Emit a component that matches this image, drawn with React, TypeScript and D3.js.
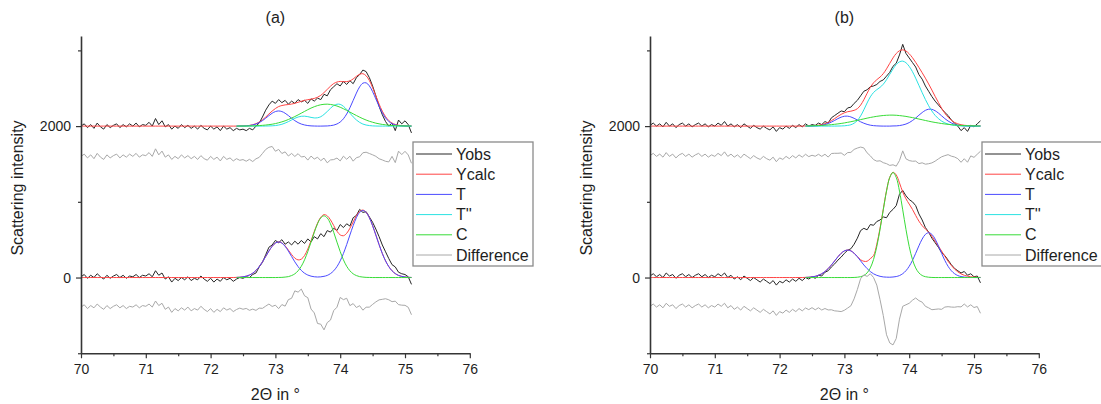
import React, { useEffect, useRef } from 'react';
import * as d3 from 'd3';

// x grid of the measured / calculated profiles (2Θ in degrees)
const gridStart = 70;
const gridStep = 0.05;
// peak components are only plotted from here on (same step)
const compStart = 72.4;

// vertical shifts used in the figure
const upperShift = 2000;
const diffShift = -400;

// ---- panel (a), lower pattern ----
const obsA_lo = [10, 40, -10, 30, 0, 50, 10, -20, 30, -10,
  20, 40, 0, 30, -10, 20, 10, 40, 0, 30,
  20, 50, 10, 90, 30, 60, -20, 10, -60, -10,
  -40, 0, -30, 10, -40, -10, -30, 20, -20, -50,
  -10, -60, -20, -50, 0, -30, -10, -50, -20, 0,
  -10, 10, 0, 40, 60, 140, 200, 300, 400, 430,
  490, 460, 500, 440, 470, 430, 480, 440, 490, 450,
  510, 470, 540, 510, 580, 540, 620, 600, 650, 620,
  700, 660, 710, 680, 790, 820, 900, 860, 870, 800,
  730, 640, 540, 430, 340, 250, 170, 140, 70, 50,
  40, 10, -90];
const calcA_lo = [0, 0, 0, 0, 0, 0, 0, 0, 0, 0, 0, 0, 0, 0, 0, 0, 0, 0, 0, 0, 0, 0, 0, 0,
  0, 0, 0, 0, 0, 0, 0, 0, 0, 0, 0, 0, 0, 0, 0, 0, 0, 0, 0, 0, 0, 0, 0, 0,
  2, 4, 9, 18, 33, 57, 94, 144, 207, 278, 350, 412, 455, 471, 457, 418, 362, 304, 256, 233,
  243, 291, 376, 486, 607, 717, 796, 831, 815, 762, 686, 612, 563, 552, 584, 651, 734, 816, 872, 891,
  862, 791, 685, 562, 435, 318, 220, 144, 89, 52, 28, 15, 7, 3, 1];
const tA_lo = [2, 4, 9, 18, 33, 57, 94, 144, 207, 278, 350, 412, 455, 470, 455, 412, 350, 278, 207, 144,
  94, 57, 33, 18, 10, 7, 9, 16, 28, 52, 89, 144, 220, 318, 435, 562, 685, 790, 860, 885,
  860, 790, 685, 562, 435, 318, 220, 144, 89, 52, 28, 15, 7, 3, 1];
const cA_lo = [0, 0, 0, 0, 0, 0, 0, 0, 0, 0, 0, 0, 0, 1, 2, 6, 12, 26, 49, 89,
  149, 234, 343, 468, 597, 710, 787, 815, 787, 710, 597, 468, 343, 234, 149, 89, 49, 26, 12, 6,
  2, 1, 0, 0, 0, 0, 0, 0, 0, 0, 0, 0, 0, 0, 0];

// ---- panel (a), upper pattern (values relative to the 2000 shift) ----
const obsA_hi = [0, 30, -20, 20, -30, 40, -10, -40, 20, -20,
  10, 30, -20, 20, -10, 30, 0, 40, -10, 20,
  10, 50, 0, 100, 20, 70, -10, 20, -40, 0,
  -30, 20, -20, 10, -30, 0, -40, 10, -30, -50,
  0, -40, -10, -60, 0, -40, -20, -60, -30, -50,
  -40, -60, -30, -50, 0, 40, 120, 210, 280, 330,
  300, 350, 310, 340, 290, 330, 300, 350, 320, 340,
  300, 360, 330, 370, 350, 420, 400, 480, 520, 560,
  530, 590, 550, 600, 560, 640, 680, 740, 720, 640,
  530, 400, 260, 150, 60, 0, 40, -60, 80, 30,
  70, 20, -90];
const calcA_hi = [0, 0, 0, 0, 0, 0, 0, 0, 0, 0, 0, 0, 0, 0, 0, 0, 0, 0, 0, 0, 0, 0, 0, 0,
  0, 0, 0, 0, 0, 0, 0, 0, 0, 0, 0, 0, 0, 0, 0, 0, 0, 0, 0, 0, 0, 0, 0, 0,
  0, 2, 2, 4, 9, 18, 32, 53, 82, 119, 160, 199, 232, 258, 272, 280, 285, 291, 301, 314,
  328, 340, 349, 356, 365, 381, 406, 443, 485, 527, 562, 582, 590, 587, 588, 598, 623, 657, 685, 692,
  665, 602, 509, 399, 291, 197, 125, 73, 40, 22, 11, 6, 3, 1, 1];
const tA_hi = [0, 1, 1, 3, 7, 15, 27, 46, 72, 104, 139, 170, 192, 200, 192, 170, 139, 104, 72, 46,
  27, 15, 7, 3, 1, 0, 0, 1, 2, 6, 13, 28, 54, 97, 160, 242, 339, 436, 518, 567,
  571, 531, 455, 359, 261, 175, 108, 61, 32, 16, 7, 3, 1, 0, 0];
const t2A_hi = [0, 0, 0, 0, 0, 0, 0, 0, 0, 1, 2, 4, 7, 14, 24, 40, 59, 81, 103, 120,
  130, 131, 125, 115, 108, 110, 124, 154, 193, 235, 271, 289, 287, 261, 220, 171, 122, 81, 49, 27,
  14, 7, 3, 1, 0, 0, 0, 0, 0, 0, 0, 0, 0, 0, 0];
const cA_hi = [0, 1, 1, 1, 2, 3, 5, 7, 10, 14, 19, 25, 33, 44, 56, 70, 87, 106, 126, 148,
  171, 194, 217, 238, 256, 271, 282, 288, 290, 286, 278, 265, 249, 229, 208, 185, 162, 140, 118, 98,
  80, 64, 51, 39, 30, 22, 17, 12, 8, 6, 4, 3, 2, 1, 1];

// ---- panel (b), lower pattern ----
const obsB_lo = [20, 50, 10, 40, 0, 60, 20, 40, -10, 30,
  50, 10, 40, 0, 30, 50, 10, 40, 0, 30,
  10, 50, 20, 60, 0, 30, -20, 10, -30, 20,
  -10, -40, 0, -30, -60, -20, -50, -80, -40, -100,
  -50, -70, -30, -60, -20, -50, -10, -40, 0, -20,
  10, -10, 30, 20, 70, 90, 140, 180, 230, 270,
  320, 360, 380, 440, 520, 620, 650, 630, 700, 690,
  740, 760, 800, 790, 860, 900, 950, 1100, 1150, 1080,
  1030, 1000, 950, 840, 760, 660, 600, 520, 460, 400,
  330, 290, 230, 170, 120, 90, 60, 80, 30, 50,
  10, 20, -70];
const calcB_lo = [0, 0, 0, 0, 0, 0, 0, 0, 0, 0, 0, 0, 0, 0, 0, 0, 0, 0, 0, 0, 0, 0, 0, 0,
  0, 0, 0, 0, 0, 0, 0, 0, 0, 0, 0, 0, 0, 0, 0, 0, 0, 0, 0, 0, 0, 0, 0, 0,
  2, 4, 8, 16, 29, 49, 79, 118, 166, 220, 274, 320, 352, 363, 353, 321, 278, 235, 215, 215,
  250, 290, 440, 652, 902, 1146, 1324, 1390, 1355, 1250, 1130, 1040, 970, 900, 820, 745, 685, 640, 600, 545,
  480, 415, 350, 280, 215, 160, 112, 75, 48, 30, 18, 10, 6, 3, 2];
const tB_lo = [2, 4, 8, 16, 29, 49, 79, 118, 166, 220, 274, 320, 352, 363, 352, 320, 274, 220, 166, 118,
  79, 49, 29, 16, 8, 5, 4, 7, 13, 26, 51, 90, 148, 226, 320, 419, 508, 570, 592, 570,
  508, 419, 320, 226, 148, 90, 51, 26, 13, 6, 2, 1, 0, 0, 0];
const cB_lo = [0, 0, 0, 0, 0, 0, 0, 0, 0, 0, 0, 0, 0, 0, 0, 1, 4, 11, 27, 61,
  127, 239, 410, 636, 894, 1142, 1322, 1388, 1322, 1142, 894, 636, 410, 239, 127, 61, 27, 11, 4, 1,
  0, 0, 0, 0, 0, 0, 0, 0, 0, 0, 0, 0, 0, 0, 0];

// ---- panel (b), upper pattern (values relative to the 2000 shift) ----
const obsB_hi = [10, 40, 0, 30, -10, 50, 0, 30, -20, 20,
  40, 0, 30, -10, 20, 40, 0, 30, -10, 20,
  0, 40, 10, 60, 0, 30, -10, 20, -20, 30,
  0, -30, 10, -20, -40, 0, -30, -50, -10, -70,
  -20, -40, 0, -30, 10, -20, 20, -10, 30, 0,
  20, 10, 40, 20, 60, 40, 110, 140, 170, 200,
  190, 240, 250, 300, 340, 400, 460, 480, 520, 530,
  550, 590, 610, 660, 710, 790, 830, 940, 1080, 960,
  900, 840, 780, 680, 620, 530, 460, 390, 330, 280,
  230, 180, 140, 80, 40, 0, -60, -20, -70, 10,
  -10, 30, 70];
const calcB_hi = [0, 0, 0, 0, 0, 0, 0, 0, 0, 0, 0, 0, 0, 0, 0, 0, 0, 0, 0, 0, 0, 0, 0, 0,
  0, 0, 0, 0, 0, 0, 0, 0, 0, 0, 0, 0, 0, 0, 0, 0, 0, 0, 0, 0, 0, 0, 0, 0,
  2, 3, 5, 8, 12, 20, 32, 49, 72, 99, 129, 155, 176, 190, 197, 208, 230, 277, 348, 433,
  512, 572, 613, 648, 693, 756, 829, 901, 959, 995, 1007, 992, 955, 904, 842, 775, 705, 633, 557, 476,
  393, 313, 236, 170, 117, 77, 48, 30, 18, 11, 7, 4, 3, 2, 2];
const tB_hi = [0, 0, 1, 2, 5, 11, 20, 34, 53, 75, 99, 118, 130, 131, 121, 103, 80, 57, 38, 23,
  12, 6, 3, 1, 0, 0, 0, 2, 3, 7, 15, 27, 46, 73, 106, 144, 179, 208, 223, 221,
  203, 173, 136, 99, 67, 42, 24, 13, 6, 3, 1, 0, 0, 0, 0];
const t2B_hi = [0, 0, 0, 0, 0, 0, 0, 0, 0, 0, 1, 2, 4, 9, 18, 38, 74, 134, 215, 305,
  386, 444, 481, 512, 553, 613, 684, 754, 813, 849, 858, 837, 789, 719, 633, 538, 442, 351, 269, 199,
  142, 99, 66, 43, 27, 16, 9, 5, 3, 1, 1, 0, 0, 0, 0];
const cB_hi = [2, 3, 4, 6, 7, 9, 12, 15, 19, 24, 29, 35, 42, 50, 58, 67, 76, 86, 95, 105,
  114, 122, 129, 135, 140, 143, 145, 145, 143, 139, 134, 128, 120, 112, 103, 93, 84, 74, 65, 56,
  48, 41, 34, 28, 23, 19, 15, 12, 9, 7, 5, 4, 3, 2, 2];

const xTicks = [70, 70.5, 71, 71.5, 72, 72.5, 73, 73.5, 74, 74.5, 75, 75.5, 76];
const xLabelled = [70, 71, 72, 73, 74, 75, 76];
const yTicks = [-1000, 0, 1000, 2000, 3000];
const yLabelled = [0, 2000];
const seriesNames = ['Yobs', 'Ycalc', 'T', "T''", 'C', 'Difference'];
const seriesColors = ['#262626', '#ff4444', '#4a4aff', '#2ae2e2', '#38dc38', '#a8a8a8'];
const panelTitles = ['(a)', '(b)'];

const panels = [
  {
    title: panelTitles[0],
    patterns: [
      { shift: 0, obs: obsA_lo, calc: calcA_lo, comps: [['T', tA_lo], ['C', cA_lo]] },
      { shift: upperShift, obs: obsA_hi, calc: calcA_hi, comps: [['T', tA_hi], ["T''", t2A_hi], ['C', cA_hi]] },
    ],
  },
  {
    title: panelTitles[1],
    patterns: [
      { shift: 0, obs: obsB_lo, calc: calcB_lo, comps: [['T', tB_lo], ['C', cB_lo]] },
      { shift: upperShift, obs: obsB_hi, calc: calcB_hi, comps: [['T', tB_hi], ["T''", t2B_hi], ['C', cB_hi]] },
    ],
  },
];

const W = 1101;
const H = 404;
const panelOffset = 569;
const margin = { left: 81, right: 469.8, top: 36, bottom: 353.25 };
const FONT = '"Liberation Sans", Arial, Helvetica, sans-serif';
const TEXT = '#1e1e1e';
const AXIS = '#353535';

const colorOf = (name: string) => seriesColors[seriesNames.indexOf(name)];

const App = () => {
  const ref = useRef<SVGSVGElement>(null);

  useEffect(() => {
    const svg = d3.select(ref.current);
    svg.selectAll('*').remove();

    const x = d3.scaleLinear().domain([70, 76]).range([margin.left, margin.right]);
    const y = d3.scaleLinear().domain([-1000, 3190]).range([margin.bottom, margin.top]);

    panels.forEach((p, pi) => {
      const g = svg.append('g').attr('transform', `translate(${pi * panelOffset},0)`);

      // data
      const plot = g.append('g').attr('fill', 'none').attr('stroke-width', 1);
      p.patterns.forEach(pat => {
        const full = d3.line<number>()
          .x((_, i) => x(gridStart + i * gridStep))
          .y(d => y(d + pat.shift));
        const smooth = d3.line<number>()
          .x((_, i) => x(gridStart + i * gridStep))
          .y(d => y(d + pat.shift))
          .curve(d3.curveCatmullRom);
        const comp = d3.line<number>()
          .x((_, i) => x(compStart + i * gridStep))
          .y(d => y(d + pat.shift))
          .curve(d3.curveCatmullRom);

        plot.append('path').attr('d', full(pat.obs)).attr('stroke', colorOf('Yobs'));
        plot.append('path').attr('d', smooth(pat.calc)).attr('stroke', colorOf('Ycalc'));
        pat.comps.forEach(([name, vals]) => {
          plot.append('path').attr('d', comp(vals as number[])).attr('stroke', colorOf(name as string));
        });
        const diff = pat.obs.map((v, i) => v - pat.calc[i] + diffShift);
        plot.append('path').attr('d', full(diff)).attr('stroke', colorOf('Difference'));
      });

      // axes
      const yAxis = g.append('g')
        .attr('transform', `translate(${margin.left},0)`)
        .call(d3.axisLeft(y).tickValues(yTicks).tickSize(5).tickPadding(5).tickSizeOuter(0)
          .tickFormat(d => (yLabelled.includes(+d) ? String(d) : '')));
      yAxis.selectAll('.tick line').filter(d => !yLabelled.includes(+d)).attr('x2', -3);

      const xAxis = g.append('g')
        .attr('transform', `translate(0,${margin.bottom})`)
        .call(d3.axisBottom(x).tickValues(xTicks).tickSize(5).tickPadding(6).tickSizeOuter(0)
          .tickFormat(d => (xLabelled.includes(+d) ? String(d) : '')));
      xAxis.selectAll('.tick line').filter(d => !xLabelled.includes(+d)).attr('y2', 3);

      [yAxis, xAxis].forEach(a => {
        a.attr('font-family', FONT).attr('font-size', 14);
        a.select('.domain').attr('stroke', AXIS).attr('stroke-width', 1.6);
        a.selectAll('.tick line').attr('stroke', AXIS).attr('stroke-width', 1.2);
        a.selectAll('.tick text').attr('fill', TEXT);
      });

      const cx = (margin.left + margin.right) / 2;
      g.append('text').attr('x', cx).attr('y', 23).attr('text-anchor', 'middle')
        .attr('font-family', FONT).attr('font-size', 16).attr('fill', TEXT).text(p.title);
      g.append('text').attr('x', cx).attr('y', 400).attr('text-anchor', 'middle')
        .attr('font-family', FONT).attr('font-size', 16).attr('fill', TEXT).text('2Θ in °');
      g.append('text').attr('transform', 'translate(23,188) rotate(-90)').attr('text-anchor', 'middle')
        .attr('font-family', FONT).attr('font-size', 16).attr('fill', TEXT).text('Scattering intensity');

      // legend
      const lg = g.append('g').attr('transform', 'translate(413,142)');
      lg.append('rect').attr('width', 120).attr('height', 124)
        .attr('fill', '#fff').attr('stroke', '#8a8a8a').attr('stroke-width', 1.3);
      seriesNames.forEach((name, i) => {
        const cy = 12 + i * 20.2;
        lg.append('line').attr('x1', 3).attr('x2', 39).attr('y1', cy).attr('y2', cy)
          .attr('stroke', seriesColors[i]).attr('stroke-width', 1);
        lg.append('text').attr('x', 43).attr('y', cy + 5.5)
          .attr('font-family', FONT).attr('font-size', 16).attr('fill', TEXT).text(name);
      });
    });
  }, []);

  return (
    <svg ref={ref} width={W} height={H}
      style={{ position: 'absolute', left: 0, top: 0, background: '#fff' }} />
  );
};

export default App;
